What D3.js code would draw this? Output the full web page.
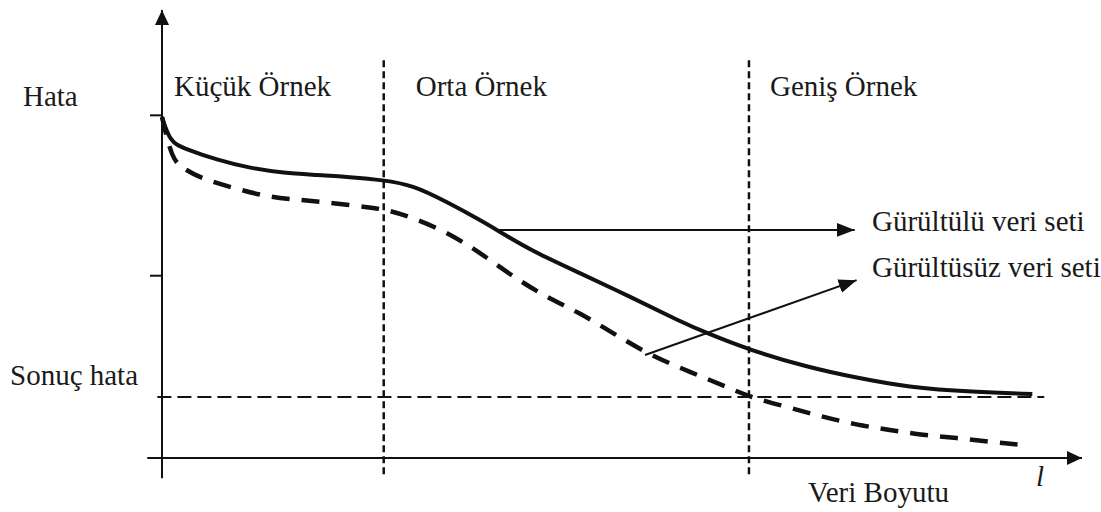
<!DOCTYPE html>
<html>
<head>
<meta charset="utf-8">
<script src="https://cdn.jsdelivr.net/npm/d3@7"></script>
<style>
  body { margin: 0; background: #fff; }
</style>
</head>
<body>
<div id="chart"></div>
<script>
// Data (x: veri boyutu 0-100, y: hata 0-100)
const noisyX = [0, 0.9, 2.3, 6, 9.6, 13.2, 16.9, 20.4, 24, 27.3, 31, 34.6, 36.4, 40, 45.4, 50.9, 56.3, 59.2, 63.9, 70.1, 75.5, 81, 88.2, 94.6];
const noisyY = [76.1, 70.5, 69.2, 66.5, 64.7, 63.6, 63.2, 62.7, 62.05, 60.9, 57.1, 53.1, 50.9, 46.4, 41.3, 36.0, 30.5, 27.9, 24.1, 20.3, 17.9, 15.8, 14.7, 14.3];
const cleanX = [0, 1.1, 2.3, 4.1, 7.7, 11.4, 15, 18.6, 22.3, 24.5, 27.3, 31, 34.6, 38.2, 41.8, 45.4, 49, 53, 57.4, 61.7, 63.9, 68.3, 71.8, 75.5, 79.1, 82.7, 86.4, 90, 93.6];
const cleanY = [76.1, 66.5, 64.7, 62.5, 60.3, 58.3, 57.6, 56.9, 56, 55.4, 53.6, 50.4, 45.8, 40.4, 35.9, 32.4, 27.9, 23, 19.2, 15.6, 13.6, 11.2, 9.2, 7.4, 6.25, 5.1, 4.5, 3.6, 2.9];
const finalError = 13.6;
const regionBounds = [24.1, 63.8];
const regionLabels = ["Küçük Örnek", "Orta Örnek", "Geniş Örnek"];
const regionStarts = [0, 24.1, 63.8];
const yTicks = [76.6, 40.8];
const seriesLabels = ["Gürültülü veri seti", "Gürültüsüz veri seti"];

const width = 1101, height = 512;
const font = '"Liberation Serif", "DejaVu Serif", "Times New Roman", serif';
const x = d3.scaleLinear().domain([0, 100]).range([162, 1082]);
const y = d3.scaleLinear().domain([0, 100]).range([458, 10]);

const svg = d3.select('#chart').append('svg')
  .attr('width', width)
  .attr('height', height);

// arrow heads
const defs = svg.append('defs');
function marker(id, len, half) {
  defs.append('marker')
    .attr('id', id)
    .attr('markerUnits', 'userSpaceOnUse')
    .attr('viewBox', `0 ${-half} ${len} ${half * 2}`)
    .attr('refX', len).attr('refY', 0)
    .attr('markerWidth', len).attr('markerHeight', half * 2)
    .attr('orient', 'auto')
    .append('path')
    .attr('d', `M0,${-half}L${len},0L0,${half}Z`)
    .attr('fill', '#111');
}
marker('axisHead', 15, 7);
marker('lblHead', 18, 7);

// axes
svg.append('line')
  .attr('x1', x(0)).attr('x2', x(0))
  .attr('y1', y(-4.5)).attr('y2', y(100))
  .attr('stroke', '#111').attr('stroke-width', 2)
  .attr('marker-end', 'url(#axisHead)');
svg.append('line')
  .attr('x1', x(-1.6)).attr('x2', x(100))
  .attr('y1', y(0)).attr('y2', y(0))
  .attr('stroke', '#111').attr('stroke-width', 2)
  .attr('marker-end', 'url(#axisHead)');

const yAxis = svg.append('g')
  .attr('transform', `translate(${x(0)},0)`)
  .call(d3.axisLeft(y).tickValues(yTicks).tickSize(12).tickFormat(''));
yAxis.select('.domain').remove();
yAxis.selectAll('line').attr('stroke', '#111').attr('stroke-width', 2);

// region separators
svg.selectAll('.sep')
  .data(regionBounds)
  .enter().append('line')
  .attr('class', 'sep')
  .attr('x1', d => x(d)).attr('x2', d => x(d))
  .attr('y1', y(88.8)).attr('y2', y(-4.5))
  .attr('stroke', '#111').attr('stroke-width', 2.5)
  .attr('stroke-dasharray', '7,4');

// final error line
svg.append('line')
  .attr('x1', x(-0.5)).attr('x2', x(95.9))
  .attr('y1', y(finalError)).attr('y2', y(finalError))
  .attr('stroke', '#111').attr('stroke-width', 2)
  .attr('stroke-dasharray', '14,6');

const line = d3.line()
  .x(d => x(d[0]))
  .y(d => y(d[1]))
  .curve(d3.curveBasis);

svg.append('path')
  .datum(d3.zip(noisyX, noisyY))
  .attr('fill', 'none')
  .attr('stroke', '#111')
  .attr('stroke-width', 4)
  .attr('d', line);

svg.append('path')
  .datum(d3.zip(cleanX, cleanY))
  .attr('fill', 'none')
  .attr('stroke', '#111')
  .attr('stroke-width', 4.5)
  .attr('stroke-dasharray', '18,12')
  .attr('d', line);

// label arrows
const arrows = [
  { from: [36.4, 50.9], to: [75.3, 50.9] },
  { from: [52.5, 23.0], to: [75.5, 39.7] }
];
svg.selectAll('.lblArrow')
  .data(arrows)
  .enter().append('line')
  .attr('class', 'lblArrow')
  .attr('x1', d => x(d.from[0])).attr('y1', d => y(d.from[1]))
  .attr('x2', d => x(d.to[0])).attr('y2', d => y(d.to[1]))
  .attr('stroke', '#111').attr('stroke-width', 2)
  .attr('marker-end', 'url(#lblHead)');

// texts
function label(tx, ty, s, italic) {
  return svg.append('text')
    .attr('x', tx).attr('y', ty)
    .attr('font-family', font)
    .attr('font-size', 29)
    .attr('font-style', italic ? 'italic' : 'normal')
    .attr('fill', '#1a1a1a')
    .text(s);
}
const regionOffsets = [12, 32, 21];
regionLabels.forEach((d, i) => label(x(regionStarts[i]) + regionOffsets[i], 96, d));

label(23, 106, 'Hata');
label(10, 385, 'Sonuç hata');
label(808, 502, 'Veri Boyutu');
label(1036, 486, 'l', true);
label(872, 231, seriesLabels[0]);
label(872, 277, seriesLabels[1]);
</script>
</body>
</html>
